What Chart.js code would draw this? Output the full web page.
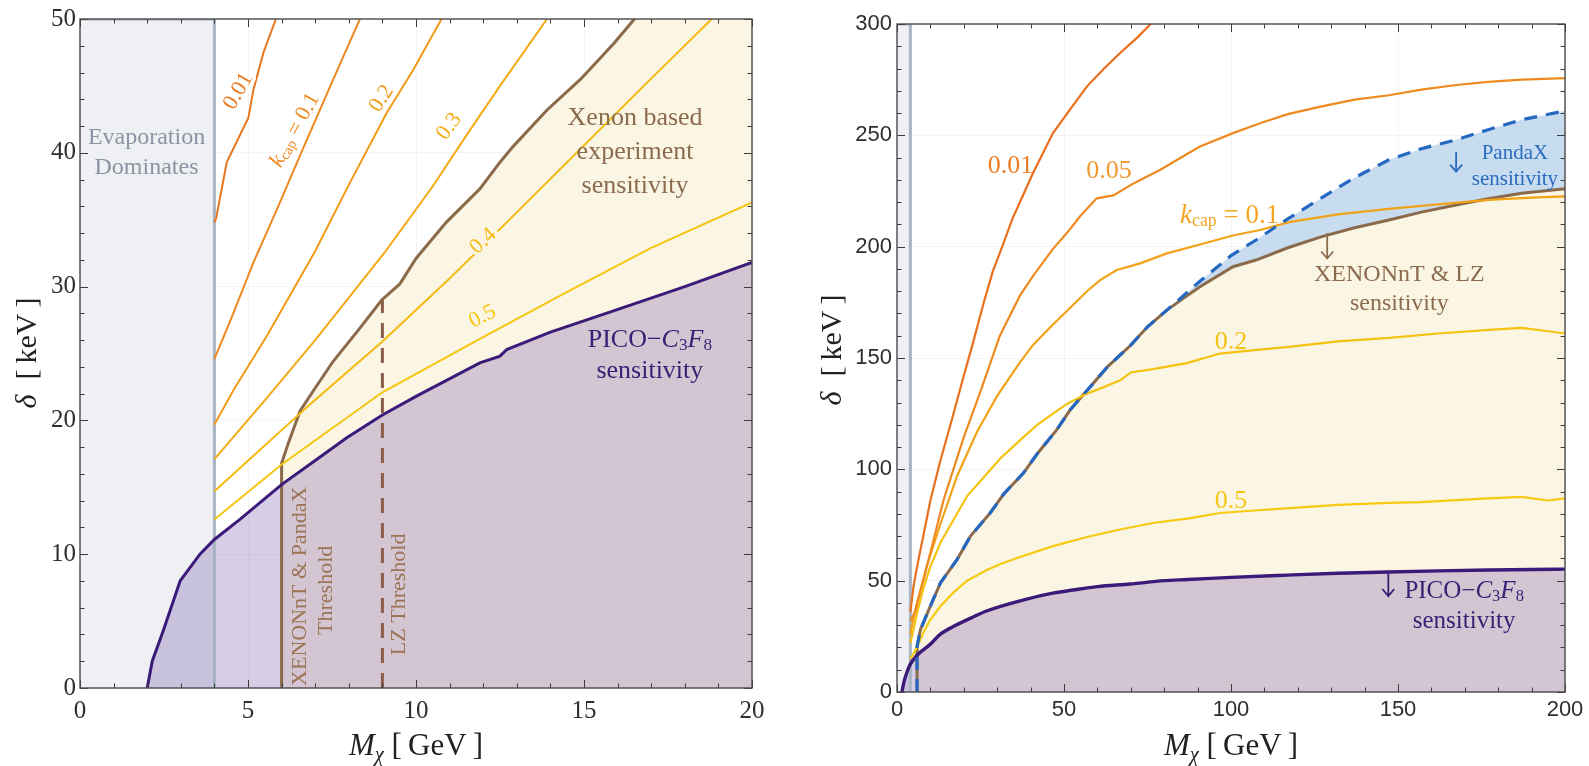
<!DOCTYPE html>
<html>
<head>
<meta charset="utf-8">
<script src="https://cdn.jsdelivr.net/npm/chart.js@4.4.1/dist/chart.umd.min.js"></script>
<style>
  html, body { margin: 0; padding: 0; background: #fff; }
  #wrap { position: relative; width: 1589px; height: 766px; }
  .box { position: absolute; top: 0; height: 766px; }
  #boxL { left: 0; width: 790px; }
  #boxR { left: 800px; width: 789px; }
</style>
</head>
<body>
<div id="wrap">
  <div class="box" id="boxL"><canvas id="left"></canvas></div>
  <div class="box" id="boxR"><canvas id="right"></canvas></div>
</div>
<script>
/* left panel: M_chi [GeV] against delta [keV] */
const ticksLx = [0, 5, 10, 15, 20];
const ticksLy = [0, 10, 20, 30, 40, 50];
const evapL = [[0, 50], [4, 50], [4, 0]];
const picoL = [[2, 0], [2.15, 2], [2.48, 4.3], [2.98, 8], [3.57, 10], [4, 11.1], [4.76, 12.6], [6, 15.2], [7, 17], [7.94, 18.7], [9, 20.4], [10, 21.8], [11.9, 24.3], [12.5, 24.8], [12.7, 25.3], [14, 26.6], [15.9, 28.2], [18, 30], [20, 31.8]];
const xenonL = [[6, 0], [6, 16.8], [6.2, 18.3], [6.55, 20.7], [6.94, 22.2], [7.53, 24.4], [8.33, 26.9], [8.98, 29], [9.52, 30.2], [10, 32.1], [10.9, 34.8], [11.9, 37.3], [12.5, 39.3], [12.9, 40.5], [13.9, 43.2], [14.9, 45.5], [15.9, 48.2], [16.5, 50], [20, 59]];
const lzL = [[9, 0], [9, 29]];
const kcap001L = [[4, 34.8], [4.05, 35.1], [4.37, 39.3], [5.01, 42.6], [5.16, 44.7], [5.46, 47.5], [5.83, 50]];
const kcap01L = [[4, 24.6], [4.5, 27.6], [5.16, 31.8], [5.9, 36], [6.55, 39.8], [7.54, 45.5], [8.33, 50]];
const kcap02L = [[4, 19.7], [4.6, 22.4], [5.56, 26.3], [6.99, 32.6], [8, 37.6], [9.13, 43], [9.92, 46.2], [10.76, 50]];
const kcap03L = [[4, 17.1], [5.5, 21.5], [7, 26], [9.08, 32.6], [10.5, 37.5], [11.5, 41.3], [12.5, 45], [13.9, 50]];
const kcap04L = [[4, 14.7], [6.85, 21.2], [9, 25.9], [11, 30.6], [12.7, 34.8], [14.9, 40.3], [16.9, 45.3], [18.8, 50]];
const kcap05L = [[4, 12.6], [6, 16.7], [9, 22.1], [11.9, 26.1], [14.5, 29.6], [17, 32.9], [20, 36.3]];

/* right panel */
const ticksRx = [0, 50, 100, 150, 200];
const ticksRy = [0, 50, 100, 150, 200, 250, 300];
const evapR = [[0, 300], [4, 300], [4, 0]];
const picoR = [[1.5, 0], [2, 4], [3, 9], [4, 12.5], [6, 16.5], [10, 21.5], [13, 26], [17, 29.5], [22.8, 33.7], [27, 36.5], [37.7, 41.3], [47, 44.5], [52.7, 45.8], [60, 47.3], [69.8, 48.5], [80, 50], [87, 50.5], [100, 51.5], [117, 52.5], [132, 53.3], [147, 53.9], [162, 54.4], [177, 54.8], [190, 55], [200, 55.2]];
const xenonR = [[6, 0], [6, 20.3], [7, 28], [9.9, 38.3], [13, 49], [17.9, 59.3], [22, 70], [27.8, 80.2], [32, 89], [37.8, 98.2], [42, 107], [47.8, 117.7], [52, 127], [57.8, 137], [63, 146], [69.8, 155.5], [75, 164], [80.8, 171.5], [85, 176], [90.7, 182], [100.6, 191], [107.5, 194], [117, 199.5], [127.2, 204.5], [137, 208.5], [147.3, 212], [157, 215.5], [167.4, 218.7], [177, 221.5], [187, 224], [200, 226]];
const pandaR = [[6, 0], [6, 20.3], [7, 28], [9.9, 38.3], [13, 49], [17.9, 59.3], [22, 70], [27.8, 80.2], [32, 89], [37.8, 98.2], [42, 107], [47.8, 117.7], [52, 127], [57.8, 137], [63, 146], [69.8, 155.5], [75, 164], [80.8, 171.5], [85, 177], [90.7, 184.5], [100, 196], [107.5, 203], [117, 212.5], [127.2, 222], [137, 231], [147.3, 239], [157, 244], [167.4, 248], [177, 252.5], [187, 257], [200, 261]];
const kcap001R = [[4, 36], [5, 48], [6.5, 60], [8, 71], [10, 86], [13, 104], [16, 120], [18, 131], [20, 142], [22.8, 157], [26, 175], [28.7, 189], [31, 198], [34.7, 213], [40.7, 233], [46.7, 251], [52, 262], [56.9, 272], [62, 280], [66.8, 287], [72, 294], [76.6, 301]];
const kcap005R = [[4, 32], [5.4, 36], [8.9, 56], [13.9, 86], [19.9, 114], [25, 135], [30.8, 160], [36.8, 178], [40.8, 187], [46.7, 199], [50.8, 206], [55, 214], [59.8, 221.7], [64.8, 223], [70.8, 228.4], [78.7, 234.4], [84.7, 239.7], [90.7, 245], [100.6, 251], [108.7, 255.4], [117, 259.5], [127.2, 263], [137, 266], [147.3, 268], [157, 270.5], [167.4, 272.6], [177, 274], [187, 275], [200, 275.7]];
const kcap01R = [[4, 26], [4.5, 30], [6, 40], [9, 57], [12.9, 75], [18, 97], [24, 117], [30, 133], [36.8, 148], [40.8, 156], [46.7, 165], [50.8, 171], [56.9, 180], [60.8, 185], [65.8, 189.5], [72.8, 192.5], [80.8, 197], [90.7, 201], [100.6, 205], [108.7, 207.5], [117.4, 211], [132, 214.5], [147.3, 217], [162, 219], [177.2, 221], [190, 222], [200, 222.6]];
const kcap02R = [[4, 22], [4.5, 25], [6, 35.5], [8, 47], [9.9, 56], [13, 67], [16.8, 77], [21, 88], [26.9, 98], [31, 105], [36.8, 113], [42, 120], [46.7, 125], [51, 129.5], [56.9, 134], [62, 137], [66.8, 140], [70, 143.5], [76.6, 145], [86.8, 147.7], [96.7, 152], [107, 153.5], [117.4, 155], [132, 157.5], [147.3, 159], [162, 161], [177.2, 162.6], [187, 163.5], [195, 162], [200, 161]];
const kcap05R = [[4, 15], [4.5, 16], [6, 20.2], [8, 27], [9.9, 32.3], [13, 38.5], [16.8, 44.5], [21, 50], [26.9, 54.8], [31, 57.5], [36.8, 60.6], [46.7, 65.5], [56.9, 69.6], [66.8, 73], [76.6, 75.9], [87.4, 78], [96.7, 80.4], [107, 81.5], [117.4, 82.6], [132, 84], [147.3, 84.9], [157, 85.3], [167.4, 86.2], [177, 87], [187, 87.6], [195, 86], [200, 87]];

const SERIF = '"Liberation Serif", "DejaVu Serif", serif';
const SANS = '"Liberation Sans", Arial, sans-serif';
const BEIGE = '#fbf5e3';
const BROWN = '#8b6a4c';
const PURPLE = '#3b1a7a';

function pts(a) {
  return a.map(p => ({ x: p[0], y: p[1] }));
}

function ds(data, color, width, order, more) {
  return Object.assign({
    data: pts(data), showLine: true, borderColor: color, borderWidth: width,
    pointRadius: 0, fill: false, tension: 0, order: order
  }, more || {});
}

// text with italic / subscript pieces
function runFont(r, size) {
  const s = r.sub ? size * 0.66 : size;
  return (r.it ? 'italic ' : '') + s + 'px ' + SERIF;
}

function drawRich(ctx, runs, x, y, size, color, rot, halo, base) {
  ctx.save();
  ctx.translate(x, y);
  if (rot) ctx.rotate(rot * Math.PI / 180);
  ctx.textBaseline = base || 'middle';
  ctx.textAlign = 'left';
  let w = 0;
  runs.forEach(r => { ctx.font = runFont(r, size); w += ctx.measureText(r.t).width; });
  const pass = (stroke) => {
    let cx = -w / 2;
    runs.forEach(r => {
      ctx.font = runFont(r, size);
      const dy = r.sub ? size * 0.2 : 0;
      if (stroke) ctx.strokeText(r.t, cx, dy);
      else ctx.fillText(r.t, cx, dy);
      cx += ctx.measureText(r.t).width;
    });
  };
  if (halo) {
    ctx.strokeStyle = halo;
    ctx.lineWidth = 7;
    ctx.lineJoin = 'round';
    pass(true);
  }
  ctx.fillStyle = color;
  pass(false);
  ctx.restore();
}

function txt(s) { return [{ t: s }]; }
const kcapRuns = [{ t: 'k', it: 1 }, { t: 'cap', sub: 1 }, { t: ' = 0.1' }];
const picoRuns = [{ t: 'PICO\u2212' }, { t: 'C', it: 1 }, { t: '3', sub: 1 }, { t: 'F', it: 1 }, { t: '8', sub: 1 }];
const xTitle = [{ t: 'M', it: 1 }, { t: '\u03c7', it: 1, sub: 1 }, { t: ' [\u2009GeV\u2009]' }];
const yTitle = [{ t: '\u03b4', it: 1 }, { t: '  [\u2009keV\u2009]' }];

function isMajor(v, step) {
  return Math.abs(v / step - Math.round(v / step)) < 1e-6;
}

// frame, inside ticks, axis titles, notes and arrows
function decor(opt) {
  return {
    id: 'decor',
    afterDatasetsDraw(chart) {
      const { ctx, chartArea: a, scales: { x, y } } = chart;
      ctx.save();
      ctx.strokeStyle = '#3c3c3c';
      ctx.lineWidth = 1;
      ctx.beginPath();
      let n = Math.round((x.max - x.min) / opt.minorX);
      for (let i = 0; i <= n; i++) {
        const v = x.min + i * opt.minorX;
        const p = Math.round(x.getPixelForValue(v)) + 0.5;
        const len = isMajor(v, opt.majorX) ? 8 : 4.5;
        ctx.moveTo(p, a.bottom); ctx.lineTo(p, a.bottom - len);
        ctx.moveTo(p, a.top); ctx.lineTo(p, a.top + len);
      }
      n = Math.round((y.max - y.min) / opt.minorY);
      for (let i = 0; i <= n; i++) {
        const v = y.min + i * opt.minorY;
        const p = Math.round(y.getPixelForValue(v)) + 0.5;
        const len = isMajor(v, opt.majorY) ? 8 : 4.5;
        ctx.moveTo(a.left, p); ctx.lineTo(a.left + len, p);
        ctx.moveTo(a.right, p); ctx.lineTo(a.right - len, p);
      }
      ctx.stroke();
      ctx.lineWidth = 1.4;
      ctx.strokeStyle = '#4a4a4a';
      ctx.strokeRect(a.left, a.top, a.width, a.height);

      opt.arrows.forEach(ar => {
        const px = x.getPixelForValue(ar.x);
        const y1 = y.getPixelForValue(ar.y1), y2 = y.getPixelForValue(ar.y2);
        ctx.strokeStyle = ar.color;
        ctx.lineWidth = 1.8;
        ctx.beginPath();
        ctx.moveTo(px, y1); ctx.lineTo(px, y2);
        ctx.moveTo(px - 6, y2 - 7); ctx.lineTo(px, y2); ctx.lineTo(px + 6, y2 - 7);
        ctx.stroke();
      });
      opt.notes.forEach(t => {
        drawRich(ctx, t.runs, x.getPixelForValue(t.x), y.getPixelForValue(t.y), t.size, t.color, t.rot, t.halo);
      });
      drawRich(ctx, xTitle, (a.left + a.right) / 2, opt.xTitleY, 31, '#222', 0, null, 'alphabetic');
      drawRich(ctx, yTitle, opt.yTitleX, opt.yTitleMid, 30, '#222', -90, null, 'alphabetic');
      ctx.restore();
    }
  };
}

function axes(xmin, xmax, ymin, ymax, tx, ty, font, yWidth, xHeight, padX, padY) {
  const tickFont = { family: font, size: font === SERIF ? 25 : 22 };
  return {
    x: {
      type: 'linear', min: xmin, max: xmax,
      afterBuildTicks: s => { s.ticks = tx.map(v => ({ value: v })); },
      afterFit: s => { s.height = xHeight; },
      grid: { color: 'rgba(0,0,0,0.045)', drawTicks: false },
      border: { display: false },
      ticks: { font: tickFont, color: '#2e2e2e', padding: padX, maxRotation: 0, autoSkip: false }
    },
    y: {
      type: 'linear', min: ymin, max: ymax,
      afterBuildTicks: s => { s.ticks = ty.map(v => ({ value: v })); },
      afterFit: s => { s.width = yWidth; },
      grid: { color: 'rgba(0,0,0,0.045)', drawTicks: false },
      border: { display: false },
      ticks: { font: tickFont, color: '#2e2e2e', padding: padY, autoSkip: false }
    }
  };
}

const baseOpts = {
  responsive: true,
  maintainAspectRatio: false,
  animation: false,
  events: [],
  plugins: { legend: { display: false }, tooltip: { enabled: false }, filler: { drawTime: 'beforeDatasetsDraw' } }
};

/* left chart */
new Chart(document.getElementById('left'), {
  type: 'scatter',
  data: {
    datasets: [
      ds(evapL, '#a9b4c2', 3, 20, { fill: 'origin', backgroundColor: '#eef0f3' }),
      ds(xenonL, BROWN, 3, 18, { fill: 'origin', backgroundColor: BEIGE }),
      ds(picoL, PURPLE, 3, 17, { fill: 'origin', backgroundColor: 'rgba(92,56,156,0.25)' }),
      ds(kcap001L, '#e8761e', 2, 10),
      ds(kcap01L, '#ee8820', 2, 10),
      ds(kcap02L, '#f19a18', 2, 10),
      ds(kcap03L, '#f3aa14', 2, 10),
      ds(kcap04L, '#f5ba10', 2, 10),
      ds(kcap05L, '#f6c50f', 2, 10),
      ds(lzL, '#8a5d4b', 3, 5, { borderDash: [15, 10] })
    ]
  },
  options: Object.assign({}, baseOpts, {
    layout: { padding: { left: 0, right: 38, top: 16, bottom: 0 } },
    scales: axes(0, 20, 0, 50, ticksLx, ticksLy, SERIF, 80, 78, 8, 4)
  }),
  plugins: [decor({
    minorX: 1, majorX: 5, minorY: 2, majorY: 10,
    xTitleY: 755, yTitleX: 36, yTitleMid: 353,
    arrows: [],
    notes: [
      { x: 1.98, y: 41.1, runs: txt('Evaporation'), size: 24, color: '#8a94a2' },
      { x: 1.98, y: 38.9, runs: txt('Dominates'), size: 24, color: '#8a94a2' },
      { x: 4.71, y: 44.6, runs: txt('0.01'), size: 22, color: '#e97a22', rot: -60, halo: '#fff' },
      { x: 6.4, y: 41.7, runs: kcapRuns, size: 22, color: '#ee8b22', rot: -61, halo: '#fff' },
      { x: 8.98, y: 44.05, runs: txt('0.2'), size: 22, color: '#f09c1c', rot: -57, halo: '#fff' },
      { x: 10.99, y: 41.96, runs: txt('0.3'), size: 22, color: '#f3ac18', rot: -54, halo: '#fff' },
      { x: 12.0, y: 33.4, runs: txt('0.4'), size: 22, color: '#f5bc14', rot: -43, halo: BEIGE },
      { x: 11.98, y: 27.75, runs: txt('0.5'), size: 22, color: '#f6c614', rot: -27, halo: BEIGE },
      { x: 16.52, y: 42.56, runs: txt('Xenon based'), size: 26, color: '#8b6b4e' },
      { x: 16.52, y: 40.03, runs: txt('experiment'), size: 26, color: '#8b6b4e' },
      { x: 16.52, y: 37.5, runs: txt('sensitivity'), size: 26, color: '#8b6b4e' },
      { x: 16.96, y: 25.97, runs: picoRuns, size: 26, color: '#3a1e74' },
      { x: 16.96, y: 23.7, runs: txt('sensitivity'), size: 26, color: '#3a1e74' },
      { x: 6.55, y: 7.6, runs: txt('XENONnT & PandaX'), size: 22, color: '#9a7454', rot: -90 },
      { x: 7.32, y: 7.3, runs: txt('Threshold'), size: 22, color: '#9a7454', rot: -90 },
      { x: 9.5, y: 7.0, runs: txt('LZ Threshold'), size: 22, color: '#9a7454', rot: -90 }
    ]
  })]
});

/* right chart */
new Chart(document.getElementById('right'), {
  type: 'scatter',
  data: {
    datasets: [
      ds(evapR, '#a9b4c2', 3, 20, { fill: 'origin', backgroundColor: '#eef0f3' }),
      ds(pandaR, 'rgba(0,0,0,0)', 0, 19, { fill: 'origin', backgroundColor: '#c8dcf0' }),
      ds(xenonR, BROWN, 3, 18, { fill: 'origin', backgroundColor: BEIGE }),
      ds(picoR, PURPLE, 3.4, 17, { fill: 'origin', backgroundColor: 'rgba(92,56,156,0.25)', cubicInterpolationMode: 'monotone' }),
      ds(kcap001R, '#e8701e', 2.2, 10),
      ds(kcap005R, '#ee8a1f', 2.2, 10),
      ds(kcap01R, '#f2a216', 2.2, 10),
      ds(kcap02R, '#f5c20f', 2.2, 10),
      ds(kcap05R, '#f6ca10', 2.2, 10),
      ds(pandaR, '#2468c2', 3.2, 1, { borderDash: [13, 9] })
    ]
  },
  options: Object.assign({}, baseOpts, {
    layout: { padding: { left: 0, right: 24, top: 24, bottom: 0 } },
    scales: axes(0, 200, 0, 300, ticksRx, ticksRy, SANS, 97, 74, 5, 5)
  }),
  plugins: [decor({
    minorX: 10, majorX: 50, minorY: 10, majorY: 50,
    xTitleY: 755, yTitleX: 41, yTitleMid: 350,
    arrows: [
      { x: 167.4, y1: 242.6, y2: 233.7, color: '#2a6bbf' },
      { x: 128.8, y1: 206, y2: 194.7, color: '#8b6b4e' },
      { x: 147.1, y1: 53.3, y2: 43.1, color: '#3a1e74' }
    ],
    notes: [
      { x: 34, y: 236.2, runs: txt('0.01'), size: 26, color: '#ea7d27' },
      { x: 63.5, y: 233.7, runs: txt('0.05'), size: 26, color: '#f0992f' },
      { x: 99.6, y: 213.8, runs: kcapRuns, size: 27, color: '#f4a623' },
      { x: 100, y: 157.3, runs: txt('0.2'), size: 26, color: '#f5c21a' },
      { x: 100, y: 85.8, runs: txt('0.5'), size: 26, color: '#f5c51a' },
      { x: 185, y: 242, runs: txt('PandaX'), size: 21, color: '#2a6bbf' },
      { x: 185, y: 230, runs: txt('sensitivity'), size: 21, color: '#2a6bbf' },
      { x: 150.4, y: 187.3, runs: txt('XENONnT & LZ'), size: 24, color: '#8b6b4e' },
      { x: 150.4, y: 174.2, runs: txt('sensitivity'), size: 24, color: '#8b6b4e' },
      { x: 169.8, y: 45.1, runs: picoRuns, size: 25, color: '#3a1e74' },
      { x: 169.8, y: 31.6, runs: txt('sensitivity'), size: 25, color: '#3a1e74' }
    ]
  })]
});
</script>
</body>
</html>
